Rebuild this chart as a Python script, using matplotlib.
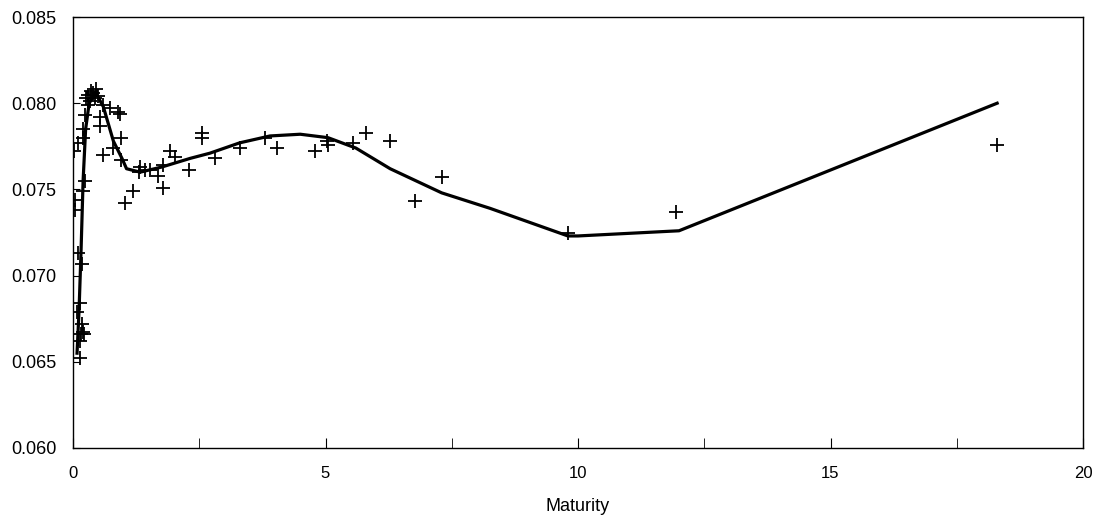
import matplotlib.pyplot as plt
from matplotlib.ticker import MultipleLocator, FormatStrFormatter

plt.rcParams['font.family'] = ['Liberation Sans', 'DejaVu Sans']

# observed yields (scatter)
obs_maturity = [0.02, 0.10, 0.20, 0.20, 0.24, 0.30, 0.44, 0.53, 0.60,
                0.04, 0.04, 0.20, 0.24,
                0.10, 0.18, 0.08, 0.14, 0.18, 0.20, 0.14, 0.14, 0.16, 0.22,
                0.30, 0.35, 0.40, 0.45, 0.50, 0.25, 0.33,
                0.53, 0.73, 0.89, 0.79, 0.96, 0.59, 0.93,
                0.96, 1.03, 1.19, 1.31, 1.33, 1.43, 1.52, 1.68, 1.78, 1.78,
                1.92, 2.02, 2.30, 2.55, 2.55, 2.81, 3.31, 3.80, 4.03, 4.79,
                5.02, 5.05, 5.55, 5.81, 6.28, 6.77, 7.30, 9.80, 11.95, 18.30]
obs_yield = [0.0772, 0.0777, 0.0780, 0.0785, 0.0793, 0.0799, 0.0803, 0.0792, 0.0770,
             0.0744, 0.0738, 0.0749, 0.0755,
             0.0713, 0.0707, 0.0679, 0.0684, 0.0672, 0.0667, 0.0662, 0.0652, 0.0666, 0.0666,
             0.0805, 0.0807, 0.0806, 0.0808, 0.0804, 0.0803, 0.0801,
             0.0787, 0.0797, 0.0795, 0.0774, 0.0780, 0.0799, 0.0794,
             0.0767, 0.0742, 0.0749, 0.0760, 0.0763, 0.0761, 0.0761, 0.0758, 0.0764, 0.0751,
             0.0772, 0.0769, 0.0761, 0.0783, 0.0780, 0.0768, 0.0774, 0.0780, 0.0774, 0.0772,
             0.0778, 0.0776, 0.0777, 0.0783, 0.0778, 0.0743, 0.0757, 0.0725, 0.0737, 0.0776]

# fitted curve
fit_maturity = [0.08, 0.12, 0.16, 0.20, 0.25, 0.32, 0.45, 0.60, 0.80, 0.97, 1.06,
                1.33, 1.76, 2.32, 2.71, 3.30, 3.90, 4.50, 5.05, 5.60, 6.28, 7.30,
                8.26, 9.80, 10.00, 12.00, 18.30]
fit_yield = [0.0655, 0.0680, 0.0715, 0.0755, 0.0785, 0.0800, 0.0806, 0.0798, 0.0778,
             0.0768, 0.0762, 0.0760, 0.0763, 0.0768, 0.0771, 0.0777, 0.0781, 0.0782,
             0.0780, 0.0774, 0.0762, 0.0748, 0.0739, 0.0723, 0.0723, 0.0726, 0.0800]

fig = plt.figure(figsize=(11.01, 5.25), dpi=100)
ax = fig.add_axes([73/1101, 1 - 448/525, 1010/1101, 431/525])

ax.plot(fit_maturity, fit_yield, color='black', linewidth=2.3, zorder=2)
ax.plot(obs_maturity, obs_yield, linestyle='none', marker='+', color='black',
        markersize=10, markeredgewidth=1.3, zorder=3)

ax.set_xlim(0, 20)
ax.set_ylim(0.060, 0.085)
ax.xaxis.set_major_locator(MultipleLocator(5))
ax.xaxis.set_minor_locator(MultipleLocator(2.5))
ax.yaxis.set_major_locator(MultipleLocator(0.005))
ax.yaxis.set_major_formatter(FormatStrFormatter('%.3f'))
ax.tick_params(axis='both', which='both', direction='in', color='black')
ax.tick_params(axis='x', which='both', length=7, pad=13, labelsize=12)
ax.tick_params(axis='y', which='major', length=5, pad=12, labelsize=13)
for s in ax.spines.values():
    s.set_linewidth(1.0)

ax.set_xlabel('Maturity', fontsize=13, labelpad=12)

fig.savefig('out.png', dpi=100)
